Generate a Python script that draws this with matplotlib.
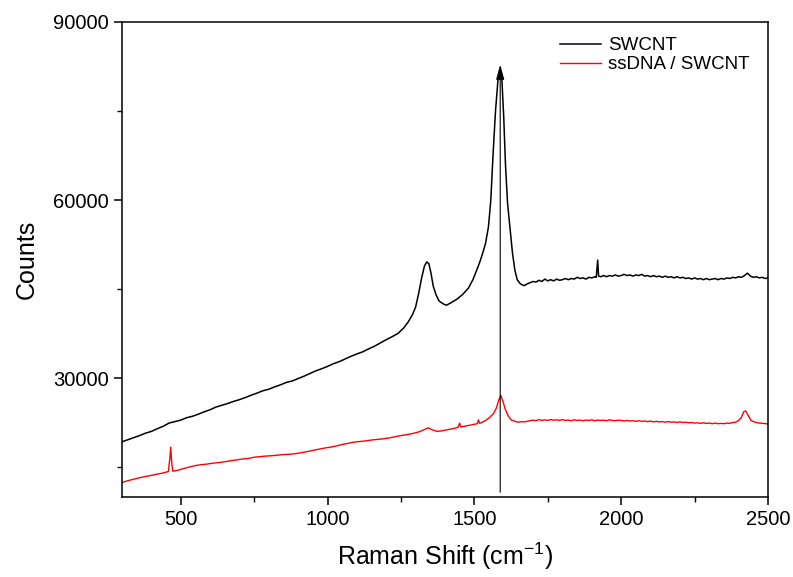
import matplotlib
matplotlib.use("Agg")
import matplotlib.pyplot as plt
from matplotlib.ticker import MultipleLocator

plt.rcParams['font.family'] = ['Liberation Sans', 'DejaVu Sans']
plt.rcParams['mathtext.fontset'] = 'custom'
plt.rcParams['mathtext.rm'] = 'Liberation Sans'
plt.rcParams['mathtext.it'] = 'Liberation Sans'

# SWCNT spectrum
swcnt_x = [300, 320, 340, 360, 380, 400, 420, 440, 460, 480, 500, 520, 540, 560, 580, 600,
           620, 640, 660, 680, 700, 720, 740, 760, 780, 800, 820, 840, 860, 880, 900, 920,
           940, 960, 980, 1000, 1020, 1040, 1060, 1080, 1100, 1120, 1140, 1160, 1180, 1200,
           1220, 1240, 1260, 1275, 1290, 1300, 1310, 1320, 1330, 1338, 1345, 1352, 1360,
           1370, 1380, 1395, 1405, 1420, 1440, 1460, 1480, 1495, 1508, 1518, 1528, 1538,
           1548, 1556, 1564, 1572, 1580, 1587, 1593, 1600, 1606, 1613, 1621, 1630, 1638,
           1646, 1655,
           1660, 1670, 1680, 1690, 1700, 1710, 1720, 1730, 1740, 1750, 1760, 1770, 1780,
           1790, 1800, 1810, 1820, 1830, 1840, 1850, 1860, 1870, 1880, 1890, 1900, 1910,
           1915, 1920, 1923, 1930, 1940, 1950, 1960, 1970, 1980, 1990, 2000, 2010, 2020,
           2030, 2040, 2050, 2060, 2070, 2080, 2090, 2100, 2110, 2120, 2130, 2140, 2150,
           2160, 2170, 2180, 2190, 2200, 2210, 2220, 2230, 2240, 2250, 2260, 2270, 2280,
           2290, 2300, 2310, 2320, 2330, 2340, 2350, 2360, 2370, 2380, 2390, 2400, 2410,
           2420, 2430, 2440, 2450, 2460, 2470, 2480, 2490, 2500]
swcnt_y = [19300, 19650, 20000, 20350, 20750, 21050, 21500, 21900, 22450, 22700, 22950,
           23350, 23600, 23950, 24350, 24700, 25150, 25450, 25750, 26100, 26400, 26750,
           27150, 27500, 27900, 28150, 28550, 28900, 29300, 29550, 29950, 30350, 30800,
           31250, 31600, 32000, 32450, 32800, 33250, 33700, 34100, 34450, 34950, 35400,
           35950, 36500, 37000, 37550, 38500, 39500, 40800, 42000, 44200, 46800, 48900,
           49600, 49300, 47800, 45500, 44000, 43000, 42500, 42300, 42700, 43300, 44100,
           45200, 46600, 48200, 49500, 51000, 52700, 55500, 60000, 68000, 75000, 80000,
           82000, 81000, 74000, 66000, 59500, 55500, 51000, 48200, 46600, 46000,
           45800, 45600, 45900, 46100, 46300, 46200, 46500, 46300, 46700, 46400, 46600,
           46400, 46700, 46500, 46600, 46800, 46600, 46800, 46700, 47000, 46800, 46900,
           46700, 47000, 46900, 47100, 47000, 49900, 47200, 47100, 47300, 47100, 47300,
           47200, 47400, 47200, 47300, 47500, 47300, 47400, 47200, 47400, 47300, 47500,
           47200, 47300, 47100, 47300, 47100, 47200, 47000, 47200, 47000, 47100, 46900,
           47100, 46900, 47000, 46800, 46900, 46700, 46900, 46700, 46800, 46600, 46800,
           46600, 46700, 46800, 46600, 46800, 46700, 46900, 46800, 47000, 46900, 47100,
           47000, 47300, 47700, 47200, 47000, 47100, 46900, 47000, 46800, 46900]

# ssDNA / SWCNT spectrum
dna_x = [300, 320, 340, 360, 380, 400, 420, 440, 458, 463, 466, 469, 473, 490, 510, 530,
         550, 570, 590, 610, 630, 650, 670, 690, 710, 730, 750, 770, 790, 810, 830, 850,
         870, 890, 910, 930, 950, 970, 990, 1010, 1030, 1050, 1070, 1090, 1110, 1130, 1150,
         1170, 1190, 1210, 1230, 1250, 1270, 1290, 1310, 1330, 1344, 1355, 1373, 1390,
         1410, 1430, 1445, 1450, 1454, 1470, 1490, 1510, 1514, 1518, 1535, 1550, 1565,
         1575, 1583, 1590, 1597, 1605, 1615, 1625,
         1640, 1650, 1660, 1670, 1680, 1690, 1700, 1710, 1720, 1730, 1740, 1750, 1760,
         1770, 1780, 1790, 1800, 1810, 1820, 1830, 1840, 1850, 1860, 1870, 1880, 1890,
         1900, 1910, 1920, 1930, 1940, 1950, 1960, 1970, 1980, 1990, 2000, 2010, 2020,
         2030, 2040, 2050, 2060, 2070, 2080, 2090, 2100, 2110, 2120, 2130, 2140, 2150,
         2160, 2170, 2180, 2190, 2200, 2210, 2220, 2230, 2240, 2250, 2260, 2270, 2280,
         2290, 2300, 2310, 2320, 2330, 2340, 2350, 2360, 2370, 2380, 2390, 2400,
         2408, 2418, 2424, 2432, 2442, 2455, 2470, 2485, 2500]
dna_y = [12450, 12750, 13000, 13250, 13450, 13650, 13850, 14050, 14300, 16500, 18400,
         16000, 14350, 14500, 14800, 15050, 15300, 15450, 15550, 15700, 15800, 15950,
         16100, 16250, 16400, 16500, 16700, 16800, 16900, 16950, 17050, 17150, 17200,
         17300, 17450, 17650, 17850, 18050, 18250, 18400, 18600, 18850, 19050, 19250,
         19350, 19450, 19600, 19700, 19800, 19950, 20150, 20350, 20500, 20700, 20950,
         21350, 21650, 21350, 21050, 21150, 21350, 21550, 21750, 22450, 21800, 21950,
         22150, 22350, 23000, 22400, 22800, 23300, 24050, 25000, 26300, 27100, 26200,
         24800, 23700, 23000,
         22700, 22600, 22700, 22650, 22750, 22850, 22950, 22850, 23050, 22900, 23000,
         22900, 23050, 22950, 23000, 22900, 23050, 22900, 22950, 22850, 23000, 22900,
         22950, 22850, 22950, 22900, 23000, 22850, 22950, 22900, 22950, 22850, 23000,
         22900, 22850, 22950, 22900, 22800, 22900, 22800, 22850, 22750, 22850, 22750,
         22800, 22700, 22800, 22650, 22750, 22650, 22700, 22600, 22700, 22600, 22650,
         22550, 22650, 22550, 22600, 22500, 22550, 22450, 22500, 22400, 22500, 22400,
         22450, 22350, 22450, 22350, 22400, 22350, 22450, 22400, 22550, 22600, 22900,
         23300, 24400, 24500, 23800, 22900, 22600, 22450, 22400, 22300]

series_labels = ['SWCNT', 'ssDNA / SWCNT']
arrow_x = 1588
arrow_y0 = 10800
arrow_y1 = 82800

fig = plt.figure(figsize=(7.93, 5.77), dpi=100)
ax = fig.add_axes([0.1538, 0.1386, 0.8147, 0.8233])

ax.plot(swcnt_x, swcnt_y, color='black', lw=1.1, label=series_labels[0])
ax.plot(dna_x, dna_y, color='red', lw=1.0, label=series_labels[1])

ax.annotate('', xy=(arrow_x, arrow_y1), xytext=(arrow_x, arrow_y0),
            arrowprops=dict(arrowstyle='-|>,head_length=0.9,head_width=0.25',
                            color='black', lw=0.8, shrinkA=0, shrinkB=0))

ax.set_xlim(300, 2500)
ax.set_ylim(10000, 90000)
ax.xaxis.set_major_locator(MultipleLocator(500))
ax.xaxis.set_minor_locator(MultipleLocator(250))
ax.yaxis.set_minor_locator(MultipleLocator(15000))
ax.set_yticks([30000, 60000, 90000])

for s in ax.spines.values():
    s.set_linewidth(1.1)
ax.tick_params(which='major', direction='out', length=6, width=1.1, labelsize=14.5)
ax.tick_params(which='minor', direction='out', length=3.5, width=1.0)

ax.set_xlabel('Raman Shift (cm$^{-1}$)', fontsize=18, labelpad=8)
ax.set_ylabel('Counts', fontsize=18, labelpad=10)

leg = ax.legend(loc='upper right', frameon=False, fontsize=13.5, handlelength=2.2,
                handletextpad=0.4, labelspacing=0.1, borderaxespad=0.4,
                bbox_to_anchor=(0.995, 1.0))

fig.savefig('out.png', dpi=100)
